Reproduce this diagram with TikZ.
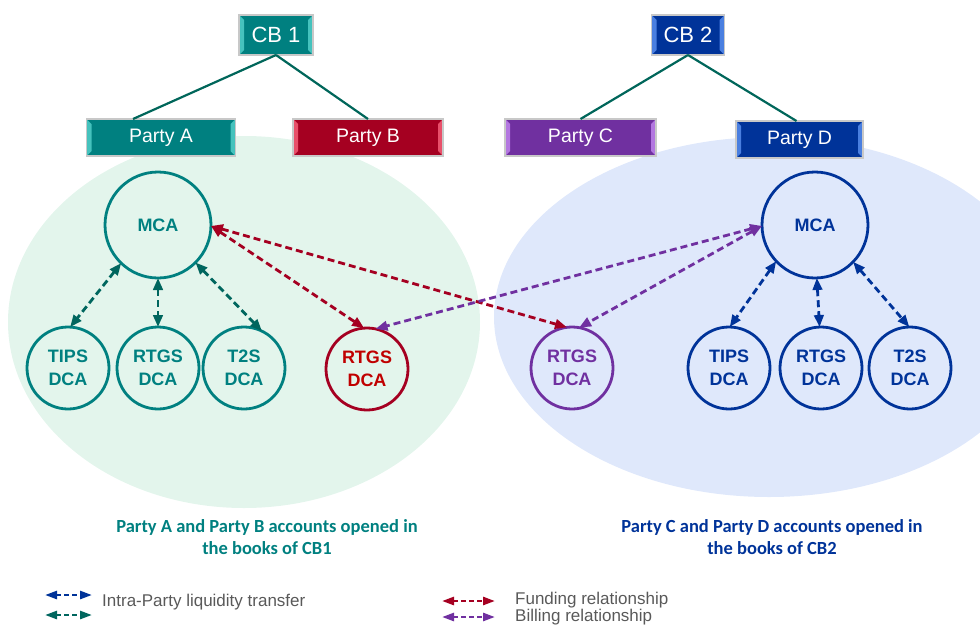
\documentclass[tikz,border=0pt]{standalone}
\usepackage{fontspec}
\setmainfont{Liberation Sans}
\newfontfamily\calfont{Carlito}
\usetikzlibrary{arrows.meta}
\definecolor{tealA}{HTML}{008080}
\definecolor{tealArrow}{HTML}{00665E}
\definecolor{tealLine}{HTML}{00665A}
\definecolor{tealLight}{HTML}{45C2BD}
\definecolor{redB}{HTML}{A50021}
\definecolor{redText}{HTML}{C00000}
\definecolor{redLight}{HTML}{E8506A}
\definecolor{purpC}{HTML}{7030A0}
\definecolor{purpLight}{HTML}{B377E0}
\definecolor{blueD}{HTML}{003399}
\definecolor{blueLight}{HTML}{4A7FE0}
\definecolor{greenBg}{HTML}{E3F5EC}
\definecolor{blueBg}{HTML}{DFE8FB}
\definecolor{boxEdge}{HTML}{C8C8C8}
\definecolor{legGray}{HTML}{595959}
\newcommand{\bevel}[2]{%
  \fill[#2] (#1.north west) -- ++(5,5) -- ([shift={(5,-5)}]#1.south west) -- (#1.south west) -- cycle;
  \fill[#2] (#1.north east) -- ++(-5,5) -- ([shift={(-5,-5)}]#1.south east) -- (#1.south east) -- cycle;
  \draw[boxEdge, line width=1.5pt] (#1.north west) rectangle (#1.south east);
}
\begin{document}
\begin{tikzpicture}[x=1pt,y=-1pt,
  boxbase/.style={rectangle, inner sep=0pt, outer sep=0pt, text=white, draw=boxEdge, line width=1.5pt},
  cbbox/.style={boxbase, minimum height=40pt, font=\fontsize{22}{24}\selectfont},
  ptbox/.style={boxbase, minimum height=37pt, font=\fontsize{19.5}{22}\selectfont},
  acct/.style={circle, line width=2.8pt, inner sep=0pt, outer sep=0pt, align=center,
     font=\bfseries\fontsize{18}{23}\selectfont},
  smallacct/.style={acct, minimum size=82pt},
  bigacct/.style={acct, minimum size=106pt},
  treeline/.style={draw=tealLine, line width=2.2pt},
  relarrow/.style={line width=2.8pt, dash pattern=on 7pt off 4pt,
     {Triangle[length=12pt,width=9.5pt]}-{Triangle[length=12pt,width=9.5pt]}},
  legarrow/.style={line width=2.6pt, dash pattern=on 5pt off 3pt,
     {Triangle[length=12pt,width=8pt]}-{Triangle[length=12pt,width=8pt]}},
  captext/.style={align=center, inner sep=0pt, font=\calfont\bfseries\fontsize{18.5}{22.5}\selectfont},
  legtext/.style={anchor=west, inner sep=0pt, text=legGray, font=\fontsize{17}{17}\selectfont}
]
\useasboundingbox (0,0) rectangle (980,624);
\begin{scope}
  \clip (0,0) rectangle (980,624);
  \fill[greenBg] (244,322) ellipse [x radius=236pt, y radius=186pt];
  \fill[blueBg] (769,317) ellipse [x radius=275pt, y radius=180pt];
\end{scope}

% boxes
\node[cbbox, fill=tealA, minimum width=74pt] (cb1) at (276,35) {CB 1};
\node[ptbox, fill=tealA, minimum width=149pt] (pa) at (161,137.5) {Party A};
\node[ptbox, fill=redB, minimum width=150pt] (pb) at (368,137.5) {Party B};
\node[cbbox, fill=blueD, minimum width=73pt] (cb2) at (688,35) {CB 2};
\node[ptbox, fill=purpC, minimum width=151pt] (pc) at (580.5,137.5) {Party C};
\node[ptbox, fill=blueD, minimum width=127pt] (pd) at (799.5,139.5) {Party D};
\bevel{cb1}{tealLight}
\bevel{pa}{tealLight}
\bevel{pb}{redLight}
\bevel{cb2}{blueLight}
\bevel{pc}{purpLight}
\bevel{pd}{blueLight}

% tree lines
\draw[treeline] (cb1.south) -- ([xshift=-28pt]pa.north);
\draw[treeline] (cb1.south) -- (pb.north);
\draw[treeline] (cb2.south) -- (pc.north);
\draw[treeline] (cb2.south) -- ([xshift=-3pt]pd.north);

% accounts CB1
\node[bigacct, draw=tealA, text=tealA] (mca1) at (158,225) {MCA};
\node[smallacct, draw=tealA, text=tealA] (tips1) at (68,368) {TIPS\\DCA};
\node[smallacct, draw=tealA, text=tealA] (rtgs1) at (158,368) {RTGS\\DCA};
\node[smallacct, draw=tealA, text=tealA] (t2s1) at (244,368) {T2S\\DCA};
\node[smallacct, draw=redB, text=redText] (rtgsB) at (367,369) {RTGS\\DCA};
% accounts CB2
\node[smallacct, draw=purpC, text=purpC] (rtgsC) at (572,368) {RTGS\\DCA};
\node[bigacct, draw=blueD, text=blueD] (mca2) at (815,225) {MCA};
\node[smallacct, draw=blueD, text=blueD] (tips2) at (729,368) {TIPS\\DCA};
\node[smallacct, draw=blueD, text=blueD] (rtgs2) at (821,368) {RTGS\\DCA};
\node[smallacct, draw=blueD, text=blueD] (t2s2) at (910,368) {T2S\\DCA};

% intra-party
\draw[relarrow, tealArrow] (mca1.226) -- (tips1.87);
\draw[relarrow, tealArrow] (mca1.270) -- (rtgs1.90);
\draw[relarrow, tealArrow] (mca1.315) -- (t2s1.64);
\draw[relarrow, blueD] (mca2.223) -- (tips2.89);
\draw[relarrow, blueD] (mca2.272) -- (rtgs2.92);
\draw[relarrow, blueD] (mca2.316) -- (t2s2.91);

% funding
\draw[relarrow, redB] (mca1.-1) -- (rtgsB.94);
\draw[relarrow, redB] (mca1.-1) -- (rtgsC.97);
% billing
\draw[relarrow, purpC] (mca2.181) -- (rtgsB.78);
\draw[relarrow, purpC] (mca2.181) -- (rtgsC.80);

% captions
\node[captext, text=tealA] (capA) at (267,537) {Party A and Party B accounts opened in\\the books of CB1};
\node[captext, text=blueD] (capB) at (772,537) {Party C and Party D accounts opened in\\the books of CB2};

% legend
\coordinate (l1a) at (45,595); \coordinate (l1b) at (92,595);
\coordinate (l2a) at (45,615); \coordinate (l2b) at (92,615);
\coordinate (l3a) at (442,601); \coordinate (l3b) at (495,601);
\coordinate (l4a) at (442,617); \coordinate (l4b) at (495,617);
\draw[legarrow, blueD] (l1a) -- (l1b);
\draw[legarrow, tealArrow] (l2a) -- (l2b);
\draw[legarrow, redB] (l3a) -- (l3b);
\draw[legarrow, purpC] (l4a) -- (l4b);
\node[legtext] (t1) at (102,602) {Intra-Party liquidity transfer};
\node[legtext] (t3) at (515,600) {Funding relationship};
\node[legtext] (t4) at (515,617) {Billing relationship};
\end{tikzpicture}
\end{document}
